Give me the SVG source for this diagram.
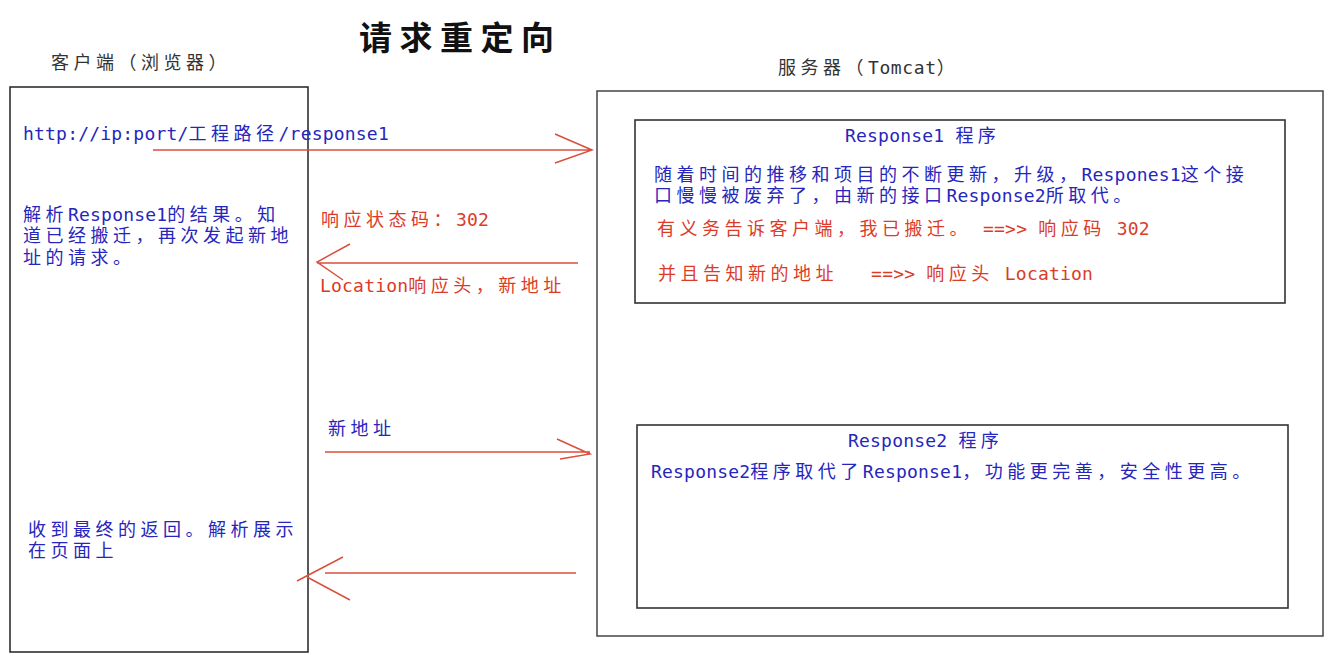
<svg xmlns="http://www.w3.org/2000/svg" width="1330" height="666" viewBox="0 0 1330 666">
<style>
text{font-family:"DejaVu Sans Mono","Noto Sans CJK SC",monospace;font-size:18px;letter-spacing:0.2px;white-space:pre}
.c{letter-spacing:4.5px}
.b{fill:#2626bd}
.r{fill:#dc3b27}
.h{fill:#333;letter-spacing:4.5px}
.box{fill:none;stroke:#222;stroke-width:1.5}
.ibox{fill:none;stroke:#333;stroke-width:1.6}
.arr{fill:none;stroke:#d9503c;stroke-width:1.5}
</style>
<rect width="1330" height="666" fill="#ffffff"/>
<g id="title">
<text x="359" y="50" style="font-family:'Noto Sans CJK SC',sans-serif;font-size:33px;font-weight:bold;letter-spacing:7.5px" fill="#111">请求重定向</text>
</g>
<g id="client">
<text class="h" x="51" y="69">客户端（浏览器）</text>
<rect class="box" x="10" y="87" width="298" height="565"/>
<text class="b" x="23" y="140">http://ip:port/<tspan class="c">工程路径</tspan>/response1</text>
<text class="b" x="23" y="221"><tspan class="c">解析</tspan>Response1<tspan class="c">的结果。知</tspan></text>
<text class="b" x="23" y="242"><tspan class="c">道已经搬迁，再次发起新地</tspan></text>
<text class="b" x="23" y="264"><tspan class="c">址的请求。</tspan></text>
<text class="b" x="28" y="536"><tspan class="c">收到最终的返回。解析展示</tspan></text>
<text class="b" x="28" y="557"><tspan class="c">在页面上</tspan></text>
</g>
<g id="server">
<text class="h" x="778" y="74">服务器（<tspan style="letter-spacing:0.6px">Tomcat</tspan>）</text>
<rect class="box" x="597" y="91" width="726" height="545" style="stroke:#444"/>
</g>
<g id="response1">
<rect class="ibox" x="635" y="120" width="650" height="183"/>
<text class="b" x="845" y="142">Response1 <tspan class="c">程序</tspan></text>
<text class="b" x="654" y="181"><tspan class="c">随着时间的推移和项目的不断更新，升级，</tspan>Respones1<tspan class="c">这个接</tspan></text>
<text class="b" x="654" y="202"><tspan class="c">口慢慢被废弃了，由新的接口</tspan>Response2<tspan class="c">所取代。</tspan></text>
<text class="r" x="657" y="235"><tspan class="c">有义务告诉客户端，我已搬迁。</tspan> ==&gt;&gt; <tspan class="c">响应码</tspan> 302</text>
<text class="r" x="658" y="280"><tspan class="c">并且告知新的地址</tspan>   ==&gt;&gt; <tspan class="c">响应头</tspan> Location</text>
</g>
<g id="response2">
<rect class="ibox" x="637" y="425" width="651" height="183"/>
<text class="b" x="848" y="447">Response2 <tspan class="c">程序</tspan></text>
<text class="b" x="651" y="478">Response2<tspan class="c">程序取代了</tspan>Response1<tspan class="c">，功能更完善，安全性更高。</tspan></text>
</g>
<g id="connectors">
<path class="arr" d="M153,150 H592 M555,134 L592,150 L555,163"/>
<path class="arr" d="M578,263 H317 M350,244 L317,262 L343,280"/>
<path class="arr" d="M325,452 H590 M557,439 L590,454 L560,459"/>
<path class="arr" d="M576,573 H325 M343,557 L297,581 M307,577 L350,600"/>
</g>
<g id="labels">
<text class="r" x="321" y="226"><tspan class="c">响应状态码：</tspan>302</text>
<text class="r" x="320" y="292">Location<tspan class="c">响应头，新地址</tspan></text>
<text class="b" x="328" y="435"><tspan class="c">新地址</tspan></text>
</g>
</svg>
